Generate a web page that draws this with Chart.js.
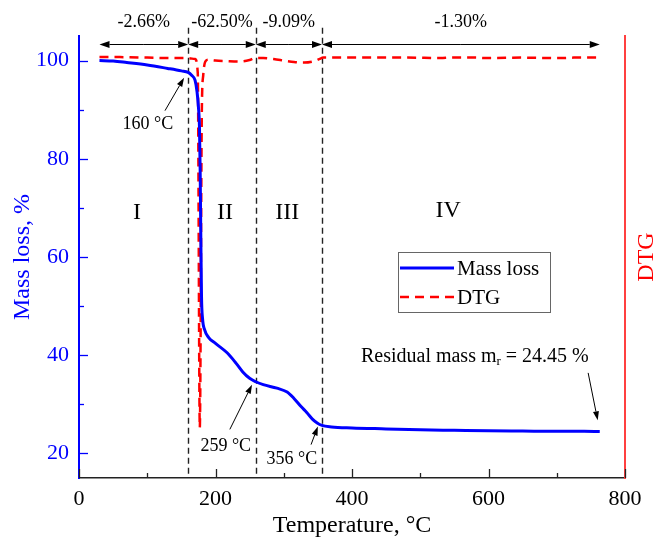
<!DOCTYPE html>
<html>
<head>
<meta charset="utf-8">
<script src="https://cdn.jsdelivr.net/npm/chart.js@4.4.1/dist/chart.umd.min.js"></script>
<style>
  html, body { margin: 0; padding: 0; background: #fff; }
  #wrap { width: 657px; height: 537px; position: relative; }
</style>
</head>
<body>
<div id="wrap"><canvas id="tga"></canvas></div>
<script>
// TGA / DTG curves of the sample, heating 30 -> 763 °C
const TEMP_MASS = [30, 50, 70, 100, 130, 150, 160, 165, 170, 173, 175, 176.5, 177.5, 178.5, 179.5, 181, 184, 190, 200, 217, 230, 240, 250, 259, 270, 290, 305, 315, 325, 334, 342, 349, 356, 370, 400, 450, 500, 550, 600, 650, 700, 740, 763];
const MASS = [100.0, 99.9, 99.6, 99.1, 98.4, 97.9, 97.6, 97.0, 96.0, 93.6, 90.5, 86.5, 78, 64, 52, 47.5, 45.2, 43.6, 42.4, 40.5, 38.4, 36.6, 35.3, 34.6, 34.0, 33.3, 32.5, 31.2, 29.6, 28.3, 27.0, 26.2, 25.7, 25.4, 25.2, 25.0, 24.8, 24.7, 24.6, 24.55, 24.5, 24.5, 24.45];

const TEMP_DTG = [30, 60, 100, 140, 160, 170, 174, 177, 180, 182, 185, 190, 200, 215, 235, 250, 258, 270, 285, 300, 315, 330, 345, 352, 358, 380, 420, 480, 530, 545, 580, 600, 650, 700, 712, 725, 763];
const DTG = [100.7, 100.7, 100.6, 100.5, 100.5, 100.3, 97.5, 25.3, 90, 97, 99.8, 100.2, 100.0, 99.9, 99.8, 100.1, 100.5, 100.5, 100.3, 100.0, 99.7, 99.6, 99.9, 100.3, 100.6, 100.6, 100.6, 100.6, 100.5, 100.6, 100.6, 100.5, 100.6, 100.5, 100.5, 100.6, 100.6];

// stage boundaries (°C), mass loss per stage and stage names
const BOUNDS = [30, 160, 259, 356, 763];
const STAGE_LOSS = ["-2.66%", "-62.50%", "-9.09%", "-1.30%"];
const STAGES = ["I", "II", "III", "IV"];
const ONSETS = ["160 °C", "259 °C", "356 °C"];
const RESIDUAL = 24.45;

const X_TICKS = [0, 100, 200, 300, 400, 500, 600, 700, 800];
const Y_TICKS = [20, 30, 40, 50, 60, 70, 80, 90, 100];

const SERIF = "'Liberation Serif', 'Times New Roman', serif";
const BLUE = "#0000ff";
const RED = "#ff0000";

function arrow(ctx, x1, y1, x2, y2, head = 9, half = 3.2) {
  const a = Math.atan2(y2 - y1, x2 - x1);
  const c = Math.cos(a), s = Math.sin(a);
  const bx = x2 - head * c, by = y2 - head * s;
  ctx.beginPath(); ctx.moveTo(x1, y1); ctx.lineTo(bx, by); ctx.stroke();
  ctx.beginPath();
  ctx.moveTo(x2, y2);
  ctx.lineTo(bx + half * s, by - half * c);
  ctx.lineTo(bx - half * s, by + half * c);
  ctx.closePath(); ctx.fill();
}

const overlay = {
  id: "overlay",
  beforeDatasetsDraw(chart) {
    const { ctx, scales: { x, y } } = chart;
    ctx.save();
    ctx.strokeStyle = "#222"; ctx.lineWidth = 1.4; ctx.setLineDash([6, 4]);
    BOUNDS.slice(1, -1).forEach((t) => {
      const px = Math.round(x.getPixelForValue(t)) + 0.5;
      ctx.beginPath();
      ctx.moveTo(px, y.getPixelForValue(106.7));
      ctx.lineTo(px, y.bottom);
      ctx.stroke();
    });
    ctx.restore();
  },
  afterDatasetsDraw(chart) {
    const { ctx, chartArea: ca, scales: { x, y } } = chart;
    ctx.save();

    // inward tick marks
    ctx.lineWidth = 1.3;
    ctx.strokeStyle = "#222";
    x.ticks.forEach((t) => {
      const px = Math.round(x.getPixelForValue(t.value)) + 0.5;
      const len = t.value % 200 === 0 ? 9 : 5;
      ctx.beginPath(); ctx.moveTo(px, ca.bottom); ctx.lineTo(px, ca.bottom - len); ctx.stroke();
    });
    ctx.strokeStyle = BLUE;
    y.ticks.forEach((t) => {
      const py = Math.round(y.getPixelForValue(t.value)) + 0.5;
      const len = t.value % 20 === 0 ? 9 : 5;
      ctx.beginPath(); ctx.moveTo(ca.left, py); ctx.lineTo(ca.left + len, py); ctx.stroke();
    });

    // stage dimension arrows with mass loss
    ctx.strokeStyle = "#000"; ctx.fillStyle = "#000"; ctx.lineWidth = 1;
    ctx.font = "18px " + SERIF;
    ctx.textAlign = "center"; ctx.textBaseline = "middle";
    const ay = Math.round(y.getPixelForValue(103.3)) + 0.5;
    for (let i = 0; i < STAGE_LOSS.length; i++) {
      const x1 = x.getPixelForValue(BOUNDS[i]), x2 = x.getPixelForValue(BOUNDS[i + 1]);
      const mid = (x1 + x2) / 2;
      arrow(ctx, mid, ay, x1, ay, 10, 3.5);
      arrow(ctx, mid, ay, x2, ay, 10, 3.5);
      ctx.fillText(STAGE_LOSS[i], mid, y.getPixelForValue(107.7));
    }

    // stage names
    ctx.font = "24px " + SERIF;
    const stagePos = [[85, 69], [214, 69], [305, 69], [541, 69.5]];
    STAGES.forEach((s, i) => {
      ctx.fillText(s, x.getPixelForValue(stagePos[i][0]), y.getPixelForValue(stagePos[i][1]));
    });

    // onset temperatures
    ctx.font = "18px " + SERIF;
    const onsetPos = [
      { text: [101, 87.1], from: [126, 89.8], to: [154, 96.5] },
      { text: [215, 21.4], from: [221, 24.9], to: [253.5, 34.0] },
      { text: [312, 18.8], from: [340, 21.8], to: [350, 25.5] },
    ];
    onsetPos.forEach((o, i) => {
      ctx.fillText(ONSETS[i], x.getPixelForValue(o.text[0]), y.getPixelForValue(o.text[1]));
      arrow(ctx, x.getPixelForValue(o.from[0]), y.getPixelForValue(o.from[1]),
        x.getPixelForValue(o.to[0]), y.getPixelForValue(o.to[1]), 9, 3);
    });

    // residual mass note
    const parts = ["Residual mass m", "r", " = " + RESIDUAL.toFixed(2) + " %"];
    const big = "20px " + SERIF, small = "13px " + SERIF;
    ctx.font = big; const w0 = ctx.measureText(parts[0]).width, w2 = ctx.measureText(parts[2]).width;
    ctx.font = small; const w1 = ctx.measureText(parts[1]).width;
    let tx = x.getPixelForValue(580) - (w0 + w1 + w2) / 2;
    const ty = y.getPixelForValue(39.7);
    ctx.textAlign = "left";
    ctx.font = big; ctx.fillText(parts[0], tx, ty); tx += w0;
    ctx.font = small; ctx.fillText(parts[1], tx, ty + 5); tx += w1;
    ctx.font = big; ctx.fillText(parts[2], tx, ty);
    arrow(ctx, x.getPixelForValue(746), y.getPixelForValue(36.4),
      x.getPixelForValue(TEMP_MASS[TEMP_MASS.length - 1] - 3), y.getPixelForValue(RESIDUAL + 2.3), 9, 3);

    // legend box
    const lx = ca.left + 319, ly = ca.top + 216, lw = 152, lh = 60;
    ctx.strokeStyle = "#666"; ctx.lineWidth = 1; ctx.setLineDash([]);
    ctx.strokeRect(lx + 0.5, ly + 0.5, lw, lh);
    ctx.font = "21px " + SERIF; ctx.fillStyle = "#000"; ctx.textBaseline = "middle";
    chart.data.datasets.forEach((ds, i) => {
      const yy = ly + 16 + i * 29;
      ctx.strokeStyle = ds.borderColor; ctx.lineWidth = ds.borderWidth;
      ctx.setLineDash(ds.borderDash || []);
      ctx.beginPath(); ctx.moveTo(lx + 2, yy); ctx.lineTo(lx + 56, yy); ctx.stroke();
      ctx.setLineDash([]);
      ctx.fillText(ds.label, lx + 59, yy + 1);
    });

    // right axis title, reads bottom to top
    ctx.fillStyle = RED; ctx.font = "24px " + SERIF; ctx.textAlign = "center";
    ctx.translate(ca.right + 22, (ca.top + ca.bottom) / 2);
    ctx.rotate(-Math.PI / 2);
    ctx.fillText("DTG", 0, 0);
    ctx.restore();
  },
};

new Chart(document.getElementById("tga"), {
  type: "line",
  data: {
    datasets: [
      {
        label: "Mass loss",
        data: TEMP_MASS.map((t, i) => ({ x: t, y: MASS[i] })),
        borderColor: BLUE, borderWidth: 3, pointRadius: 0,
        cubicInterpolationMode: "monotone", yAxisID: "y", order: 1,
      },
      {
        label: "DTG",
        data: TEMP_DTG.map((t, i) => ({ x: t, y: DTG[i] })),
        borderColor: RED, borderWidth: 2.5, borderDash: [9, 6], pointRadius: 0,
        cubicInterpolationMode: "monotone", yAxisID: "y2", order: 2,
      },
    ],
  },
  options: {
    responsive: true, maintainAspectRatio: false, animation: false,
    layout: { padding: { top: 36, left: 0, right: 0, bottom: 0 } },
    plugins: { legend: { display: false }, tooltip: { enabled: false } },
    scales: {
      x: {
        type: "linear", min: 0, max: 800,
        afterBuildTicks: (s) => { s.ticks = X_TICKS.map((v) => ({ value: v })); },
        afterFit: (s) => { s.height = 59; },
        grid: { display: false, drawTicks: false },
        border: { display: true, color: "#222", width: 1.5 },
        ticks: {
          color: "#000", padding: 8, font: { family: SERIF, size: 22 },
          callback: (v) => (v % 200 === 0 ? String(v) : ""),
        },
        title: { display: true, text: "Temperature, °C", color: "#000",
          font: { family: SERIF, size: 24 }, padding: { top: 0, bottom: -3 } },
      },
      y: {
        position: "left", min: 15, max: 105,
        afterBuildTicks: (s) => { s.ticks = Y_TICKS.map((v) => ({ value: v })); },
        afterFit: (s) => { s.width = 79; },
        grid: { display: false, drawTicks: false },
        border: { display: true, color: BLUE, width: 2 },
        ticks: {
          color: BLUE, padding: 10, font: { family: SERIF, size: 22 },
          callback: (v) => (v % 20 === 0 ? String(v) : ""),
        },
        title: { display: true, text: "Mass loss, %", color: BLUE,
          font: { family: SERIF, size: 24 }, padding: { top: 8, bottom: 0 } },
      },
      y2: {
        position: "right", min: 15, max: 105,
        afterFit: (s) => { s.width = 32; },
        grid: { display: false, drawTicks: false },
        border: { display: true, color: "#ff4040", width: 2 },
        ticks: { display: false },
      },
    },
  },
  plugins: [overlay],
});
</script>
</body>
</html>
